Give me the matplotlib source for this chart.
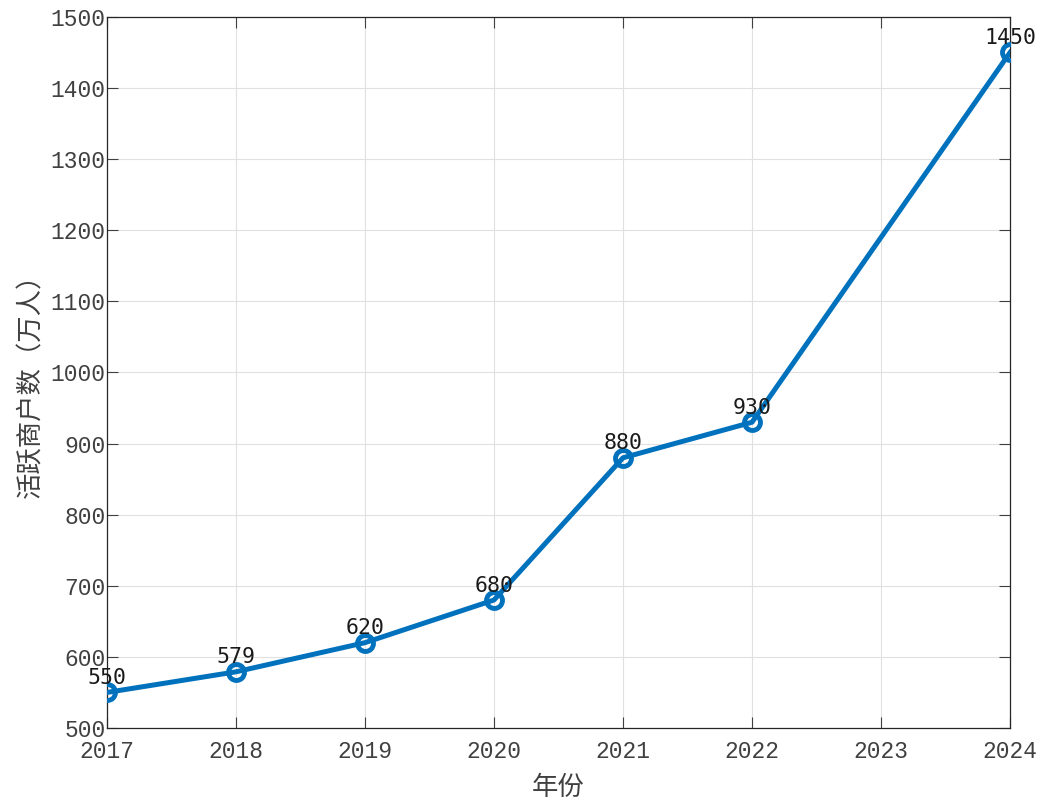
import matplotlib
matplotlib.use('Agg')
import matplotlib.pyplot as plt

years = [2017, 2018, 2019, 2020, 2021, 2022, 2024]
merchants = [550, 579, 620, 680, 880, 930, 1450]
xticks = [2017, 2018, 2019, 2020, 2021, 2022, 2023, 2024]
yticks = [500, 600, 700, 800, 900, 1000, 1100, 1200, 1300, 1400, 1500]

plt.rcParams['font.family'] = ['Noto Sans CJK SC', 'DejaVu Sans']

fig = plt.figure(figsize=(10.51, 8.06), dpi=100)
ax = fig.add_axes([0.1018, 0.0968, 0.8592, 0.8822])

ax.plot(years, merchants, color='#0072BD', linewidth=3.6, marker='o',
        markersize=11.5, markerfacecolor='none', markeredgewidth=3.5, zorder=3)
for x, y in zip(years, merchants):
    ax.annotate(str(y), (x, y), xytext=(0, 6), textcoords='offset points',
                ha='center', va='baseline', fontsize=15.5,
                family=['DejaVu Sans Mono'], color='#1a1a1a', zorder=4)

ax.set_xlim(2017, 2024)
ax.set_ylim(500, 1500)
ax.set_xticks(xticks)
ax.set_yticks(yticks)
ax.set_xticklabels([str(t) for t in xticks], family=['Liberation Mono'], fontsize=16.5, color='#5a5a5a')
ax.set_yticklabels([str(t) for t in yticks], family=['Liberation Mono'], fontsize=16.5, color='#5a5a5a')
ax.tick_params(direction='in', length=8, width=0.8, top=True, right=True, colors='#404040')
ax.tick_params(axis='y', pad=1)
ax.tick_params(axis='x', pad=9)
ax.grid(True, color='#e0e0e0', linewidth=0.8)
ax.set_axisbelow(True)
for s in ax.spines.values():
    s.set_color('#262626')
    s.set_linewidth(0.9)

ax.set_xlabel('年份', fontsize=19, color='#404040')
ax.set_ylabel('活跃商户数（万人）', fontsize=19, color='#404040')
ax.xaxis.set_label_coords(0.5, -0.064)
ax.yaxis.set_label_coords(-0.069, 0.49)

fig.savefig('out.png', dpi=100)
